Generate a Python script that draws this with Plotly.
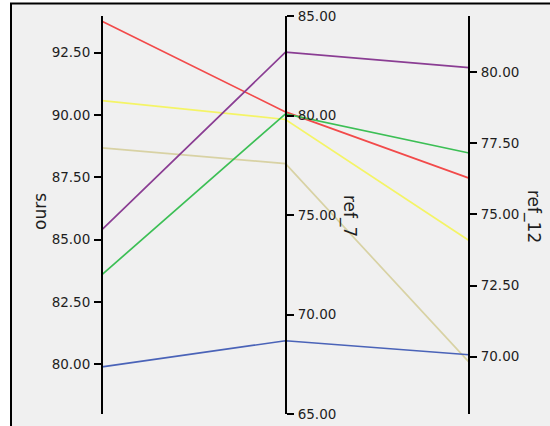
import plotly.graph_objects as go

# ---- data ----
dimensions = ["ours", "ref_7", "ref_12"]
series_names = ["s1", "s2", "s3", "s4", "s5", "s6"]
ours = [88.68, 90.58, 93.76, 83.60, 85.40, 79.90]
ref_7 = [77.58, 79.80, 80.18, 80.08, 83.18, 68.68]
ref_12 = [69.81, 74.08, 76.27, 77.15, 80.15, 70.07]
colors = ["#d8d2a4", "#f4f466", "#f24a4a", "#3cbf55", "#8a3d93", "#4a63b8"]

# axis ranges (layout)
ranges = {"ours": [78.01, 93.97], "ref_7": [65.0, 85.0], "ref_12": [67.99, 81.96]}
dticks = {"ours": 2.5, "ref_7": 5, "ref_12": 2.5}

W, H = 550, 426
ax_px = [102, 286, 469]          # axis x positions in px
top_px, bot_px = 16, 414

cols = {"ours": ours, "ref_7": ref_7, "ref_12": ref_12}

def norm(v, r):
    return (v - r[0]) / (r[1] - r[0])

fig = go.Figure()
xs = list(range(len(dimensions)))
for i, name in enumerate(series_names):
    ys = [norm(cols[d][i], ranges[d]) for d in dimensions]
    fig.add_trace(go.Scatter(x=xs, y=ys, mode="lines", name=name,
                             line=dict(color=colors[i], width=1.7),
                             hoverinfo="skip"))

# dummy traces so the extra axes are drawn
for k in range(3):
    fig.add_trace(go.Scatter(x=[None], y=[None], yaxis="y%d" % (k + 2),
                             showlegend=False, hoverinfo="skip"))

step = (ax_px[2] - ax_px[0]) / 2.0
xr = [-ax_px[0] / step, (W - ax_px[0]) / step]
dom = [(H - bot_px) / H, (H - top_px) / H]

font = dict(family="DejaVu Sans", size=13.5, color="#1e1e1e")
def yax(d, side, pos):
    return dict(range=ranges[d], domain=dom, overlaying="y", anchor="free",
                position=pos, side=side, showgrid=False, zeroline=False,
                showline=True, linecolor="black", linewidth=2,
                ticks="outside", ticklen=7, tickwidth=2, tickcolor="black",
                tick0=0, dtick=dticks[d], tickformat=".2f", tickfont=font,
                ticklabelstandoff=1, automargin=False)

fig.update_layout(
    template="none",
    width=W, height=H, margin=dict(l=0, r=0, t=0, b=0, pad=0),
    paper_bgcolor="white", plot_bgcolor="rgba(0,0,0,0)",
    showlegend=False,
    xaxis=dict(range=xr, domain=[0, 1], visible=False, fixedrange=True,
               automargin=False),
    yaxis=dict(range=[0, 1], domain=dom, visible=False, automargin=False),
    yaxis2=yax("ours", "left", ax_px[0] / W),
    yaxis3=yax("ref_7", "right", ax_px[1] / W),
    yaxis4=yax("ref_12", "right", ax_px[2] / W),
    shapes=[dict(type="rect", xref="paper", yref="paper",
                 x0=11 / W, x1=1.05, y0=-0.05, y1=1 - 3.5 / H,
                 line=dict(color="black", width=2), fillcolor="#f0f0f0",
                 layer="below")],
)

title_font = dict(family="DejaVu Sans", size=17, color="#1e1e1e")
for txt, x, y, ang in [("ours", 40, 212, -90), ("ref_7", 350, 216, 90),
                       ("ref_12", 534, 216, 90)]:
    fig.add_annotation(text=txt, x=x / W, y=1 - y / H, xref="paper",
                       yref="paper", showarrow=False, textangle=ang,
                       font=title_font, xanchor="center", yanchor="middle")

fig.write_html("out.html", config={"displayModeBar": False},
               post_script="document.body.style.margin='0';"
                           "document.body.style.overflow='hidden';")
